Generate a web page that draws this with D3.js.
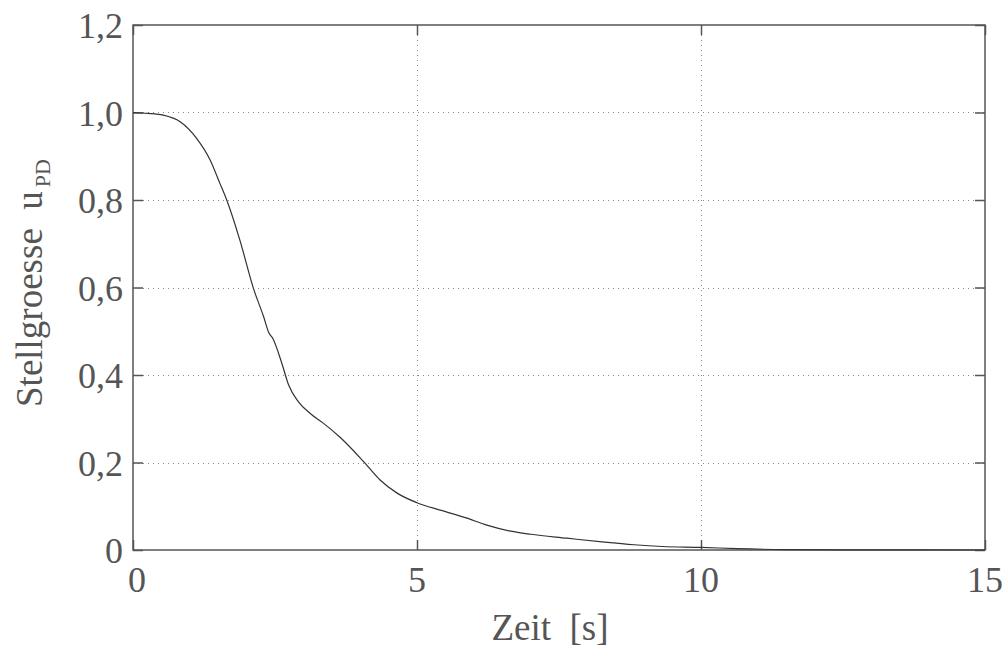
<!DOCTYPE html>
<html>
<head>
<meta charset="utf-8">
<script src="https://cdn.jsdelivr.net/npm/d3@7"></script>
<style>
  html, body { margin: 0; padding: 0; background: #fff; }
  svg { display: block; }
  text { font-family: "Liberation Serif", "DejaVu Serif", serif; fill: #555; }
</style>
</head>
<body>
<svg id="chart" width="1002" height="653"></svg>
<script>
// Data
const timeS = [0, 0.26, 0.53, 0.83, 1.12, 1.36, 1.53, 1.65, 1.88, 2.12, 2.30, 2.39, 2.46, 2.62, 2.74, 2.91, 3.12, 3.35, 3.65, 4.06, 4.35, 4.65, 5.0, 5.41, 5.85, 6.23, 6.65, 7.0, 7.64, 8.3, 8.82, 9.32, 10, 10.64, 11.5, 12.5, 15];
const uPD   = [1.0, 0.998, 0.994, 0.979, 0.941, 0.891, 0.838, 0.80, 0.709, 0.598, 0.533, 0.497, 0.484, 0.427, 0.377, 0.339, 0.312, 0.29, 0.257, 0.202, 0.16, 0.13, 0.108, 0.091, 0.074, 0.057, 0.043, 0.036, 0.027, 0.018, 0.012, 0.008, 0.006, 0.003, 0.001, 0.0003, 0];
const xTicks = [0, 5, 10, 15];
const yTicks = [0, 0.2, 0.4, 0.6, 0.8, 1.0, 1.2];
const yTickLabels = ["0", "0,2", "0,4", "0,6", "0,8", "1,0", "1,2"];
const xLabel = "Zeit  [s]";
const yLabel = "Stellgroesse  u";
const yLabelSub = "PD";

const svg = d3.select("#chart");
const m = { left: 133, top: 25, right: 985, bottom: 550 };
const x = d3.scaleLinear().domain([0, 15]).range([m.left, m.right]);
const y = d3.scaleLinear().domain([0, 1.2]).range([m.bottom, m.top]);

// grid
const grid = svg.append("g").attr("stroke", "#888").attr("stroke-width", 1).attr("stroke-dasharray", "1,4");
grid.selectAll(".gx").data(xTicks.slice(1, -1)).join("line")
  .attr("x1", d => Math.round(x(d)) + 0.5).attr("x2", d => Math.round(x(d)) + 0.5)
  .attr("y1", m.top).attr("y2", m.bottom);
grid.selectAll(".gy").data(yTicks.slice(1, -1)).join("line")
  .attr("y1", d => Math.round(y(d)) + 0.5).attr("y2", d => Math.round(y(d)) + 0.5)
  .attr("x1", m.left).attr("x2", m.right);

// axes (inward ticks on all four sides)
const tk = 10;
const axB = svg.append("g").attr("transform", `translate(0,${m.bottom})`)
  .call(d3.axisTop(x).tickValues(xTicks).tickSize(tk).tickFormat(""));
const axT = svg.append("g").attr("transform", `translate(0,${m.top})`)
  .call(d3.axisBottom(x).tickValues(xTicks).tickSize(tk).tickFormat(""));
const axL = svg.append("g").attr("transform", `translate(${m.left},0)`)
  .call(d3.axisRight(y).tickValues(yTicks).tickSize(tk).tickFormat(""));
const axR = svg.append("g").attr("transform", `translate(${m.right},0)`)
  .call(d3.axisLeft(y).tickValues(yTicks).tickSize(tk).tickFormat(""));
[axB, axT, axL, axR].forEach(a => {
  a.selectAll("path.domain").remove();
  a.selectAll("line").attr("stroke", "#555").attr("stroke-width", 1.5);
});

// frame
svg.append("rect").attr("x", m.left).attr("y", m.top)
  .attr("width", m.right - m.left).attr("height", m.bottom - m.top)
  .attr("fill", "none").attr("stroke", "#555").attr("stroke-width", 1.5);

// tick labels
svg.append("g").selectAll("text").data(xTicks).join("text")
  .attr("x", d => x(d) + (d === 0 ? 4 : 0)).attr("y", 592)
  .attr("text-anchor", "middle").attr("font-size", 36)
  .text(d => String(d));
svg.append("g").selectAll("text").data(yTicks).join("text")
  .attr("x", 123).attr("y", d => y(d) + 13)
  .attr("text-anchor", "end").attr("font-size", 36)
  .text((d, i) => yTickLabels[i]);

// curve
const line = d3.line().x(d => x(d[0])).y(d => y(d[1])).curve(d3.curveMonotoneX);
svg.append("path").datum(timeS.map((t, i) => [t, uPD[i]]))
  .attr("fill", "none").attr("stroke", "#333").attr("stroke-width", 1.2)
  .attr("d", line);

// axis labels
svg.append("text").attr("x", 550).attr("y", 640).attr("text-anchor", "middle")
  .attr("font-size", 37).style("white-space", "pre").attr("xml:space", "preserve").text(xLabel);
const yl = svg.append("text").attr("transform", "translate(42,283) rotate(-90)")
  .attr("text-anchor", "middle").attr("font-size", 37).attr("xml:space", "preserve").style("white-space", "pre");
yl.append("tspan").text(yLabel);
yl.append("tspan").attr("font-size", 22).attr("dy", 8).attr("dx", 4).text(yLabelSub);
</script>
</body>
</html>
